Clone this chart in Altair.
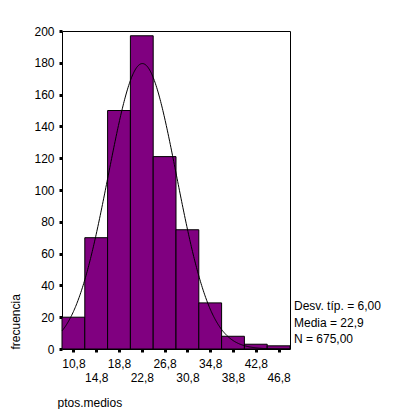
import altair as alt
import pandas as pd

# Histogram data (bin midpoints and frequencies)
midpoints = [10.8, 14.8, 18.8, 22.8, 26.8, 30.8, 34.8, 38.8, 42.8, 46.8]
counts = [20, 70, 150, 197, 121, 75, 29, 8, 3, 2]
bin_width = 4.0

# Summary statistics shown on the chart
sd = 6.00
mean = 22.9
n_total = 675.00
stats_lines = ["Desv. típ. = 6,00", "Media = 22,9", "N = 675,00"]

y_ticks = [0, 20, 40, 60, 80, 100, 120, 140, 160, 180, 200]

W, H = 228, 318
FONT = "Liberation Sans"

bars_df = pd.DataFrame({"mid": midpoints, "count": counts})

xscale = alt.Scale(domain=[8.8, 48.8], nice=False, zero=False)
yscale = alt.Scale(domain=[0, 200], nice=False)

label_expr = (
    "round((datum.value - 10.8) / 4) % 2 == 0 ? "
    "[replace(format(datum.value, '.1f'), '.', ','), ''] : "
    "['', replace(format(datum.value, '.1f'), '.', ',')]"
)

xaxis = alt.Axis(
    values=midpoints, title="ptos.medios", labelExpr=label_expr,
    labelOverlap=False, labelFlush=False, labelLineHeight=14,
    labelPadding=6, tickSize=3, tickWidth=3, tickColor="black",
    domain=False, grid=False, labelFont=FONT, labelFontSize=12,
    labelColor="black", titleFont=FONT, titleFontSize=12,
    titleFontWeight="normal", titleColor="black",
    titleAnchor="start", titleAlign="left", titleBaseline="top",
    titleX=-5, titleY=48,
)
yaxis = alt.Axis(
    values=y_ticks, title="frecuencia", tickSize=3, tickWidth=3,
    tickColor="black", domain=False, grid=False, labelPadding=5,
    labelOverlap=False, labelFont=FONT, labelFontSize=12,
    labelColor="black", titleFont=FONT, titleFontSize=12,
    titleFontWeight="normal", titleColor="black", titleAngle=270,
    titleAlign="left", titleBaseline="bottom", titleX=-40, titleY=H,
)

bars = alt.Chart(bars_df).mark_bar(
    color="#800080", stroke="black", strokeWidth=1
).transform_calculate(
    x0="datum.mid - 2", x1="datum.mid + 2"
).encode(
    x=alt.X("x0:Q", scale=xscale, axis=xaxis),
    x2="x1:Q",
    y=alt.Y("count:Q", scale=yscale, axis=yaxis),
    y2=alt.datum(0),
)

curve = alt.Chart(alt.sequence(8.8, 48.85, 0.1, as_="x")).transform_calculate(
    y=f"{n_total} * {bin_width} / ({sd} * sqrt(2 * PI)) * exp(-0.5 * pow((datum.x - {mean}) / {sd}, 2))"
).mark_line(color="black", strokeWidth=1).encode(
    x=alt.X("x:Q", scale=xscale, axis=xaxis),
    y=alt.Y("y:Q", scale=yscale, axis=yaxis),
)

stats = alt.Chart(pd.DataFrame({"t": ["\n".join(stats_lines)]})).mark_text(
    align="left", baseline="top", font=FONT, fontSize=12, color="black",
    lineBreak="\n", lineHeight=16.5,
).encode(
    x=alt.value(W + 4), y=alt.value(270), text="t:N"
)

chart = (bars + curve + stats).properties(
    width=W, height=H,
    autosize=alt.AutoSizeParams(type="none"),
    padding={"left": 54, "top": 23, "right": 95, "bottom": 60},
).configure_view(stroke="black", strokeWidth=1)

chart.save("out.html", embed_options={"renderer": "svg", "actions": False})
